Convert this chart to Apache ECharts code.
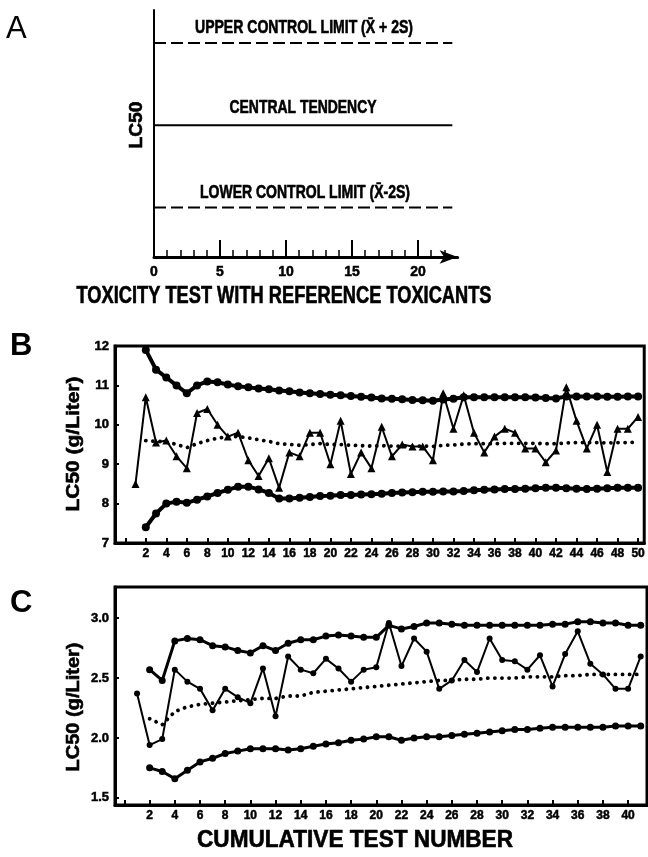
<!DOCTYPE html>
<html>
<head>
<meta charset="utf-8">
<script src="https://cdn.jsdelivr.net/npm/echarts@6/dist/echarts.min.js"></script>
<style>
html, body { margin: 0; padding: 0; background: #fff; }
#main { width: 648px; height: 857px; }
</style>
</head>
<body>
<div id="main"></div>
<script>
// ---- A : schematic control chart
var aLimitX = [0, 22.6];
var aUpper = [5.2, 5.2];
var aCentral = [3.2, 3.2];
var aLower = [1.2, 1.2];
var aXLabels = [0, 5, 10, 15, 20];
var aMajorTicks = [5, 10, 15, 20];
var aMinorTicks = [1, 2, 3, 4, 6, 7, 8, 9, 11, 12, 13, 14, 16, 17, 18, 19, 21, 22];

// ---- B : test number 1..50 (limits and mean start at test 2)
var bObserved = [8.5, 10.7, 9.55, 9.6, 9.2, 8.9, 10.3, 10.4, 10.0, 9.7,
    9.8, 9.1, 8.7, 9.15, 8.4, 9.3, 9.2, 9.8, 9.8, 9.0,
    10.1, 8.75, 9.3, 8.9, 9.95, 9.2, 9.5, 9.45, 9.45, 9.1,
    10.8, 9.9, 10.75, 9.8, 9.3, 9.7, 9.9, 9.8, 9.4, 9.4,
    9.05, 9.35, 10.95, 10.1, 9.4, 10.0, 8.8, 9.9, 9.9, 10.2];
var bUpper = [11.9, 11.4, 11.2, 11.0, 10.8, 11.0, 11.1, 11.08, 11.02,
    10.98, 10.95, 10.92, 10.9, 10.87, 10.85, 10.82, 10.8, 10.78, 10.76,
    10.75, 10.73, 10.71, 10.69, 10.67, 10.66, 10.65, 10.63, 10.62, 10.61,
    10.64, 10.66, 10.7, 10.7, 10.7, 10.7, 10.7, 10.7, 10.7, 10.69,
    10.68, 10.67, 10.72, 10.72, 10.72, 10.72, 10.71, 10.71, 10.72, 10.72];
var bLower = [7.4, 7.75, 8.0, 8.05, 8.02, 8.1, 8.18, 8.27, 8.35,
    8.43, 8.43, 8.36, 8.27, 8.13, 8.13, 8.15, 8.17, 8.19, 8.2,
    8.22, 8.22, 8.23, 8.24, 8.25, 8.27, 8.28, 8.29, 8.3, 8.3,
    8.31, 8.31, 8.32, 8.34, 8.35, 8.36, 8.37, 8.37, 8.38, 8.39,
    8.4, 8.4, 8.39, 8.38, 8.37, 8.38, 8.39, 8.4, 8.4, 8.4];
var bMean = [9.6, 9.58, 9.57, 9.5, 9.42, 9.52, 9.6, 9.66, 9.7,
    9.7, 9.67, 9.62, 9.58, 9.52, 9.5, 9.48, 9.5, 9.52, 9.5,
    9.5, 9.48, 9.47, 9.46, 9.47, 9.46, 9.46, 9.46, 9.46, 9.45,
    9.48, 9.49, 9.51, 9.52, 9.52, 9.52, 9.53, 9.53, 9.53, 9.53,
    9.52, 9.52, 9.54, 9.55, 9.55, 9.55, 9.54, 9.55, 9.55, 9.56];
var bXLabels = [2, 4, 6, 8, 10, 12, 14, 16, 18, 20, 22, 24, 26, 28, 30, 32, 34, 36, 38, 40, 42, 44, 46, 48, 50];
var bXTicks = [0, 2, 4, 6, 8, 10, 12, 14, 16, 18, 20, 22, 24, 26, 28, 30, 32, 34, 36, 38, 40, 42, 44, 46, 48, 50];
var bYLabels = [7, 8, 9, 10, 11, 12];

// ---- C : test number 1..41 (limits and mean start at test 2)
var cObserved = [2.37, 1.94, 1.99, 2.57, 2.47, 2.41, 2.23, 2.41, 2.34, 2.29,
    2.58, 2.18, 2.68, 2.57, 2.54, 2.66, 2.58, 2.47, 2.57, 2.59,
    2.96, 2.6, 2.83, 2.72, 2.41, 2.48, 2.65, 2.55, 2.83, 2.65,
    2.64, 2.57, 2.69, 2.43, 2.7, 2.89, 2.62, 2.53, 2.41, 2.41, 2.68];
var cUpper = [2.57, 2.48, 2.81, 2.83, 2.82, 2.77, 2.76, 2.73, 2.71,
    2.77, 2.73, 2.79, 2.82, 2.82, 2.85, 2.86, 2.85, 2.84, 2.84,
    2.94, 2.91, 2.93, 2.96, 2.96, 2.95, 2.94, 2.94, 2.94, 2.94,
    2.94, 2.94, 2.94, 2.95, 2.95, 2.97, 2.97, 2.96, 2.96, 2.94, 2.94];
var cLower = [1.75, 1.72, 1.66, 1.73, 1.8, 1.83, 1.87, 1.89, 1.91,
    1.91, 1.91, 1.9, 1.91, 1.93, 1.95, 1.96, 1.98, 1.99, 2.01,
    2.01, 1.98, 2.0, 2.01, 2.01, 2.02, 2.03, 2.04, 2.05, 2.06,
    2.07, 2.07, 2.08, 2.09, 2.09, 2.09, 2.09, 2.09, 2.1, 2.1, 2.1];
var cMean = [2.16, 2.11, 2.22, 2.26, 2.28, 2.29, 2.3, 2.31, 2.32,
    2.33, 2.33, 2.35, 2.35, 2.38, 2.39, 2.4, 2.41, 2.42, 2.43,
    2.44, 2.45, 2.46, 2.47, 2.48, 2.48, 2.49, 2.49, 2.5, 2.5,
    2.5, 2.51, 2.51, 2.51, 2.52, 2.52, 2.53, 2.53, 2.53, 2.53, 2.53];
var cXLabels = [2, 4, 6, 8, 10, 12, 14, 16, 18, 20, 22, 24, 26, 28, 30, 32, 34, 36, 38, 40];
var cXTicks = [0, 2, 4, 6, 8, 10, 12, 14, 16, 18, 20, 22, 24, 26, 28, 30, 32, 34, 36, 38, 40];
var cYLabels = [1.5, 2.0, 2.5, 3.0];

var plain = "'Liberation Sans', Arial, sans-serif";

// [test number, value] pairs
function pairs(values, firstTest) {
    var out = [];
    for (var i = 0; i < values.length; i++) {
        out.push([firstTest + i, values[i]]);
    }
    return out;
}
function zip(xs, ys) {
    var out = [];
    for (var i = 0; i < xs.length; i++) out.push([xs[i], ys[i]]);
    return out;
}

// condensed heavy text: squeeze the glyphs to the width seen in the figure
var measureCtx = document.createElement('canvas').getContext('2d');
function squeezed(text, size, width, x, y, rot) {
    measureCtx.font = 'bold ' + size + 'px ' + plain;
    var w = measureCtx.measureText(text).width;
    return {
        type: 'text', x: x, y: y, rotation: rot || 0, scaleX: width / w,
        style: { text: text, fill: '#000', fontSize: size, fontWeight: 'bold', fontFamily: plain,
                 stroke: '#000', lineWidth: 0.6,
                 align: 'center', verticalAlign: 'middle' }
    };
}

var chart = echarts.init(document.getElementById('main'));

var tickLabel = { color: '#000', fontWeight: 'bold', fontSize: 12, fontFamily: plain,
                  textBorderColor: '#000', textBorderWidth: 0.5 };

function aLine(values, dashed) {
    return {
        type: 'line', xAxisIndex: 0, yAxisIndex: 0,
        data: zip(aLimitX, values),
        symbol: 'none', silent: true,
        lineStyle: { color: '#000', width: 2, type: dashed ? [12, 5] : 'solid' }
    };
}
function limitSeries(xi, yi, values, size, width) {
    return {
        type: 'line', xAxisIndex: xi, yAxisIndex: yi,
        data: pairs(values, 2),
        symbol: 'circle', symbolSize: size,
        itemStyle: { color: '#000' },
        lineStyle: { color: '#000', width: width }
    };
}
function meanSeries(xi, yi, values) {
    return {
        type: 'line', xAxisIndex: xi, yAxisIndex: yi,
        data: pairs(values, 2),
        symbol: 'none',
        lineStyle: { color: '#000', width: 3.8, type: [0.1, 7], cap: 'round' }
    };
}
function obsSeries(xi, yi, values, sym, size) {
    return {
        type: 'line', xAxisIndex: xi, yAxisIndex: yi,
        data: pairs(values, 1),
        symbol: sym, symbolSize: size, z: 5,
        itemStyle: { color: '#000' },
        lineStyle: { color: '#000', width: 2 }
    };
}

var option = {
    animation: false,
    backgroundColor: '#fff',
    grid: [
        { left: 154, top: 10, width: 303.6, height: 247 },
        { left: 115, top: 346, width: 530, height: 197, show: true, borderColor: '#000', borderWidth: 3 },
        { left: 115, top: 587, width: 532, height: 218, show: true, borderColor: '#000', borderWidth: 3 }
    ],
    xAxis: [
        {
            gridIndex: 0, type: 'value', min: 0, max: 23,
            axisLine: { onZero: false, lineStyle: { color: '#000', width: 3 }, symbol: ['none', 'arrow'], symbolSize: [10, 18] },
            axisTick: { inside: true, length: 7, customValues: aMinorTicks, lineStyle: { color: '#000', width: 1.5 } },
            axisLabel: Object.assign({ customValues: aXLabels, margin: 8 }, tickLabel, { fontSize: 14 }),
            splitLine: { show: false }
        },
        {
            gridIndex: 0, type: 'value', min: 0, max: 23, position: 'bottom',
            axisLine: { show: false, onZero: false },
            axisTick: { inside: true, length: 17, customValues: aMajorTicks, lineStyle: { color: '#000', width: 2 } },
            axisLabel: { show: false },
            splitLine: { show: false }
        },
        {
            gridIndex: 1, type: 'value', min: -1, max: 50.6,
            axisLine: { onZero: false, lineStyle: { color: '#000', width: 3 } },
            axisTick: { inside: true, length: 5, customValues: bXTicks, lineStyle: { color: '#000', width: 2 } },
            axisLabel: Object.assign({ customValues: bXLabels, margin: 5 }, tickLabel),
            splitLine: { show: false }
        },
        {
            gridIndex: 2, type: 'value', min: -0.75, max: 41.5,
            axisLine: { onZero: false, lineStyle: { color: '#000', width: 3 } },
            axisTick: { inside: true, length: 5, customValues: cXTicks, lineStyle: { color: '#000', width: 2 } },
            axisLabel: Object.assign({ customValues: cXLabels, margin: 5 }, tickLabel),
            splitLine: { show: false }
        }
    ],
    yAxis: [
        {
            gridIndex: 0, type: 'value', min: 0, max: 6,
            axisLine: { onZero: false, lineStyle: { color: '#000', width: 2 } },
            axisTick: { show: false }, axisLabel: { show: false },
            splitLine: { show: false }
        },
        {
            gridIndex: 1, type: 'value', min: 7, max: 12,
            axisLine: { onZero: false, lineStyle: { color: '#000', width: 3 } },
            axisTick: { inside: true, length: 4, customValues: bYLabels, lineStyle: { color: '#000', width: 2 } },
            axisLabel: Object.assign({ customValues: bYLabels, margin: 6 }, tickLabel, { fontSize: 13 }),
            splitLine: { show: false }
        },
        {
            gridIndex: 2, type: 'value', min: 1.44, max: 3.26,
            axisLine: { onZero: false, lineStyle: { color: '#000', width: 3 } },
            axisTick: { inside: true, length: 4, customValues: cYLabels, lineStyle: { color: '#000', width: 2 } },
            axisLabel: Object.assign({ customValues: cYLabels, margin: 6,
                formatter: function (v) { return v.toFixed(1); } }, tickLabel, { fontSize: 13 }),
            splitLine: { show: false }
        }
    ],
    graphic: [
        { type: 'text', x: 6, y: 14, style: { text: 'A', fill: '#000', fontSize: 31, fontFamily: plain } },
        { type: 'text', x: 10, y: 331, style: { text: 'B', fill: '#000', fontSize: 31, fontWeight: 'bold', fontFamily: plain } },
        { type: 'text', x: 10, y: 588, style: { text: 'C', fill: '#000', fontSize: 31, fontWeight: 'bold', fontFamily: plain } },
        squeezed('UPPER CONTROL LIMIT (X\u0304 + 2S)', 18, 218, 304, 28),
        squeezed('CENTRAL TENDENCY', 18, 147, 303, 108),
        squeezed('LOWER CONTROL LIMIT (X\u0304-2S)', 18, 210, 305, 193),
        squeezed('LC50', 18, 47, 137, 125, Math.PI / 2),
        squeezed('TOXICITY TEST WITH REFERENCE TOXICANTS', 23, 415, 284, 297),
        squeezed('LC50 (g/Liter)', 19, 135, 74, 444, Math.PI / 2),
        squeezed('LC50 (g/Liter)', 19, 129, 74, 707, Math.PI / 2),
        squeezed('CUMULATIVE TEST NUMBER', 23, 316, 355, 841)
    ],
    series: [
        aLine(aUpper, true),
        aLine(aCentral, false),
        aLine(aLower, true),

        limitSeries(2, 1, bUpper, 8, 4),
        limitSeries(2, 1, bLower, 8, 4),
        meanSeries(2, 1, bMean),
        obsSeries(2, 1, bObserved, 'triangle', 8),

        limitSeries(3, 2, cUpper, 7, 3),
        limitSeries(3, 2, cLower, 7, 3),
        meanSeries(3, 2, cMean),
        obsSeries(3, 2, cObserved, 'circle', 6)
    ]
};

chart.setOption(option);
</script>
</body>
</html>
